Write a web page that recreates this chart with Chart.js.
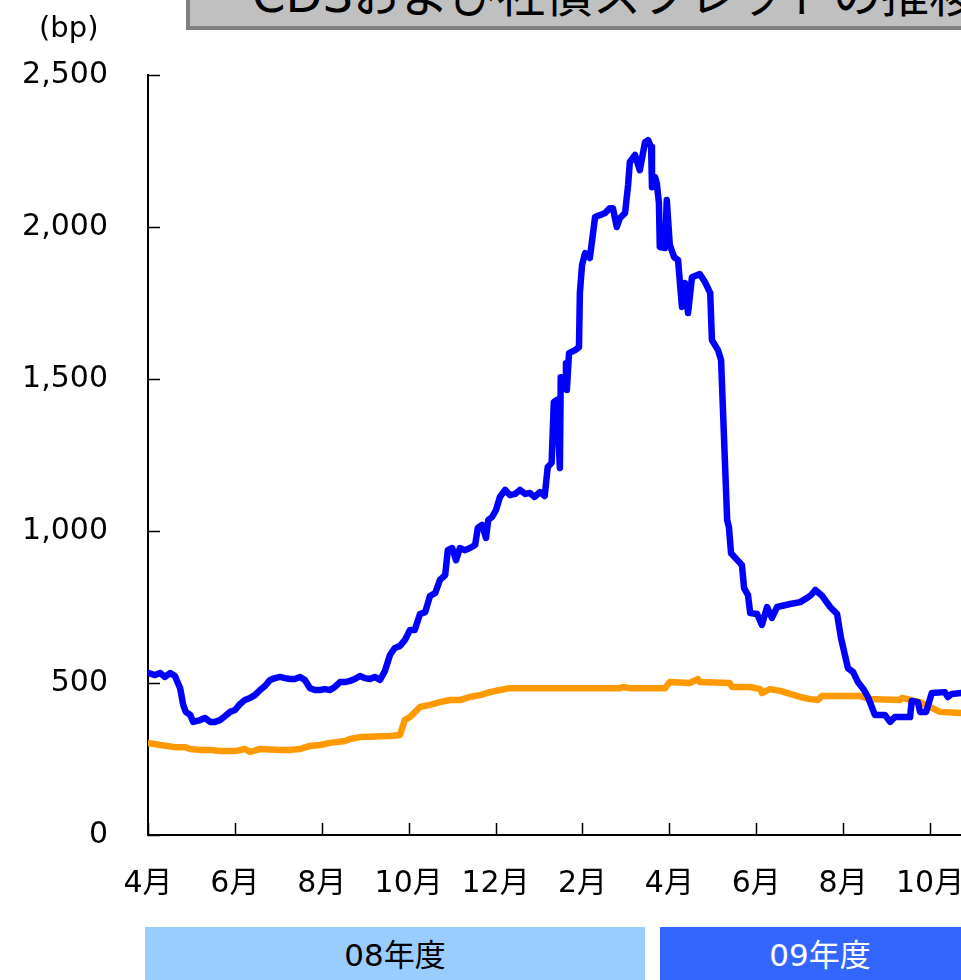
<!DOCTYPE html>
<html>
<head>
<meta charset="utf-8">
<script src="https://cdn.jsdelivr.net/npm/chart.js@4"></script>
<style>
  body { margin: 0; overflow: hidden; background: #fff; font-family: 'DejaVu Sans', 'Noto Sans CJK JP', sans-serif; }
  #wrap { position: relative; width: 961px; height: 980px; overflow: hidden; }
  #chart { position: absolute; left: 0; top: 0; }
  .title-box { position: absolute; left: 186px; top: -40px; width: 800px; height: 66px; background: #c0c0c0; border-left: 4px solid #808080; border-bottom: 4px solid #808080; }
  .title-box span { position: absolute; left: 62px; top: 11px; font-size: 48px; line-height: 48px; white-space: nowrap; color: #000; }
  .unit { position: absolute; left: 39px; top: 8px; font-size: 29px; line-height: 38px; }
  .fy { position: absolute; top: 927px; height: 53px; font-size: 31px; line-height: 56px; text-align: center; }
</style>
</head>
<body>
<div id="wrap">
  <canvas id="chart"></canvas>
  <div class="title-box"><span>CDSおよび社債スプレッドの推移</span></div>
  <div class="unit">(bp)</div>
  <div class="fy" style="left:145px;width:500px;background:#99ccff;color:#000;">08年度</div>
  <div class="fy" style="left:660px;width:320px;background:#3366ff;color:#fff;">09年度</div>
</div>
<script>
// x = months since 2008年4月 (0 = 4月初)
const cdsX = [0.00, 0.16, 0.28, 0.39, 0.51, 0.62, 0.74, 0.81, 0.87, 0.97, 1.04, 1.20, 1.31, 1.43, 1.54, 1.66, 1.77, 1.89, 2.00, 2.12,
  2.23, 2.35, 2.46, 2.58, 2.69, 2.81, 2.92, 3.04, 3.15, 3.27, 3.38, 3.50, 3.61, 3.73, 3.84, 3.96, 4.07, 4.19, 4.30, 4.42,
  4.53, 4.65, 4.76, 4.88, 4.99, 5.11, 5.22, 5.34, 5.45, 5.57, 5.68, 5.80, 5.91, 6.03, 6.14, 6.26, 6.38, 6.49, 6.61, 6.72,
  6.84, 6.90, 7.00, 7.09, 7.18, 7.30, 7.41, 7.53, 7.59, 7.69, 7.78, 7.83, 7.92, 8.01, 8.10, 8.22, 8.33, 8.45, 8.56, 8.68,
  8.79, 8.90, 9.02, 9.13, 9.20, 9.29, 9.34, 9.41, 9.48, 9.50, 9.60, 9.62, 9.64, 9.69, 9.83, 9.92, 9.94, 9.99, 10.06, 10.17,
  10.29, 10.40, 10.52, 10.63, 10.70, 10.79, 10.86, 10.98, 11.05, 11.09, 11.21, 11.32, 11.44, 11.51, 11.58, 11.60, 11.67, 11.71, 11.76, 11.78,
  11.90, 11.94, 12.01, 12.11, 12.20, 12.29, 12.36, 12.43, 12.52, 12.70, 12.82, 12.94, 12.98, 13.12, 13.19, 13.33, 13.37, 13.42, 13.56, 13.67,
  13.72, 13.81, 13.86, 14.02, 14.13, 14.25, 14.36, 14.48, 14.78, 15.01, 15.17, 15.26, 15.36, 15.52, 15.70, 15.86, 15.95, 16.11, 16.23, 16.34,
  16.48, 16.57, 16.73, 16.96, 17.08, 17.19, 17.54, 17.58, 17.72, 17.77, 17.91, 18.04, 18.34, 18.41, 18.50, 18.71];
const cdsVal = [533, 526, 533, 520, 533, 523, 483, 428, 405, 395, 372, 378, 385, 372, 372, 378, 391, 405, 411, 431,
  444, 451, 460, 477, 490, 510, 516, 520, 516, 513, 513, 520, 510, 483, 477, 477, 480, 477, 487, 503,
  503, 507, 513, 523, 516, 513, 520, 510, 539, 592, 615, 622, 641, 674, 674, 727, 733, 786, 796, 839,
  855, 937, 944, 904, 944, 937, 944, 954, 1010, 1020, 977, 1036, 1046, 1069, 1112, 1135, 1118, 1122, 1135, 1122,
  1125, 1112, 1128, 1115, 1210, 1224, 1424, 1431, 1207, 1506, 1506, 1552, 1464, 1585, 1595, 1605, 1783, 1875, 1914, 1898,
  2033, 2039, 2046, 2062, 2062, 2000, 2029, 2046, 2138, 2214, 2237, 2187, 2279, 2286, 2263, 2131, 2164, 2144, 2079, 1934,
  1931, 2089, 1941, 1901, 1891, 1737, 1816, 1717, 1835, 1845, 1819, 1783, 1628, 1595, 1562, 1036, 1013, 927, 905, 888,
  812, 789, 730, 727, 691, 750, 714, 750, 760, 766, 780, 789, 806, 786, 750, 727, 648, 549, 536, 503,
  477, 454, 395, 395, 372, 388, 388, 441, 437, 405, 405, 467, 470, 454, 464, 467];

const bondX = [0.00, 0.28, 0.62, 0.85, 0.97, 1.20, 1.43, 1.66, 2.00, 2.23, 2.35, 2.58, 3.04, 3.27, 3.50, 3.73, 3.96, 4.19, 4.53, 4.65,
  4.88, 5.57, 5.80, 5.91, 6.03, 6.26, 6.49, 6.72, 6.95, 7.18, 7.41, 7.64, 7.87, 8.10, 8.33, 8.56, 10.86, 10.93, 11.09, 11.90,
  12.01, 12.47, 12.66, 12.70, 13.39, 13.44, 13.86, 14.09, 14.13, 14.31, 14.55, 14.78, 15.01, 15.24, 15.42, 15.51, 16.39, 16.62, 17.31, 17.35,
  17.77, 18.00, 18.23, 18.71];
const bondVal = [303, 296, 289, 289, 283, 280, 280, 276, 276, 283, 273, 283, 280, 280, 283, 293, 296, 303, 309, 316,
  322, 326, 329, 378, 388, 421, 428, 437, 444, 444, 454, 460, 470, 477, 483, 483, 483, 487, 483, 483,
  503, 500, 513, 503, 500, 487, 487, 480, 467, 480, 474, 464, 454, 447, 444, 457, 457, 447, 444, 451,
  437, 421, 405, 401];

const xTickPos = [0, 2, 4, 6, 8, 10, 12, 14, 16, 18];
const xTickLabels = ['4月', '6月', '8月', '10月', '12月', '2月', '4月', '6月', '8月', '10月'];
const yTicks = [0, 500, 1000, 1500, 2000, 2500];

const canvas = document.getElementById('chart');
canvas.width = 1000;
canvas.height = 980;

Chart.defaults.font.family = "'DejaVu Sans', 'Noto Sans CJK JP', sans-serif";
Chart.defaults.color = '#000';

// short tick marks drawn inward from both axes
const innerTicks = {
  id: 'innerTicks',
  afterDatasetsDraw(chart) {
    const ctx = chart.ctx;
    const xs = chart.scales.x, ys = chart.scales.y;
    ctx.save();
    ctx.strokeStyle = '#000';
    ctx.lineWidth = 1.5;
    ctx.beginPath();
    yTicks.forEach(v => {
      const py = Math.round(ys.getPixelForValue(v)) + 0.5;
      ctx.moveTo(xs.left, py);
      ctx.lineTo(xs.left + 12, py);
    });
    xTickPos.forEach(v => {
      const px = Math.round(xs.getPixelForValue(v)) + 0.5;
      ctx.moveTo(px, ys.bottom);
      ctx.lineTo(px, ys.bottom - 12);
    });
    ctx.stroke();
    ctx.restore();
  }
};

new Chart(canvas, {
  type: 'line',
  data: {
    datasets: [
      {
        label: 'CDS',
        data: cdsX.map((x, i) => ({ x: x, y: cdsVal[i] })),
        borderColor: '#0000ff',
        borderWidth: 6.5,
        borderJoinStyle: 'round',
        borderCapStyle: 'round',
        pointRadius: 0,
        tension: 0,
      },
      {
        label: '社債',
        data: bondX.map((x, i) => ({ x: x, y: bondVal[i] })),
        borderColor: '#ff9900',
        borderWidth: 6.5,
        borderJoinStyle: 'round',
        borderCapStyle: 'round',
        pointRadius: 0,
        tension: 0,
      },
    ],
  },
  options: {
    responsive: false,
    animation: false,
    layout: { padding: { top: 75, right: 0, bottom: 0, left: 0 } },
    plugins: { legend: { display: false }, tooltip: { enabled: false } },
    scales: {
      x: {
        type: 'linear',
        min: 0,
        max: 19.61,
        grid: { display: false, drawTicks: false },
        border: { display: true, color: '#000', width: 2 },
        afterBuildTicks: (scale) => { scale.ticks = xTickPos.map(v => ({ value: v })); },
        afterFit: (scale) => { scale.height = 145; },
        ticks: {
          padding: 31,
          maxRotation: 0,
          autoSkip: false,
          font: { size: 30 },
          callback: (v) => xTickLabels[xTickPos.indexOf(v)],
        },
      },
      y: {
        min: 0,
        max: 2500,
        grid: { display: false, drawTicks: false },
        border: { display: true, color: '#000', width: 2 },
        afterBuildTicks: (scale) => { scale.ticks = yTicks.map(v => ({ value: v })); },
        afterFit: (scale) => { scale.width = 148; },
        ticks: {
          padding: 40,
          font: { size: 30 },
          callback: (v) => v.toLocaleString('en-US'),
        },
      },
    },
  },
  plugins: [innerTicks],
});
</script>
</body>
</html>
